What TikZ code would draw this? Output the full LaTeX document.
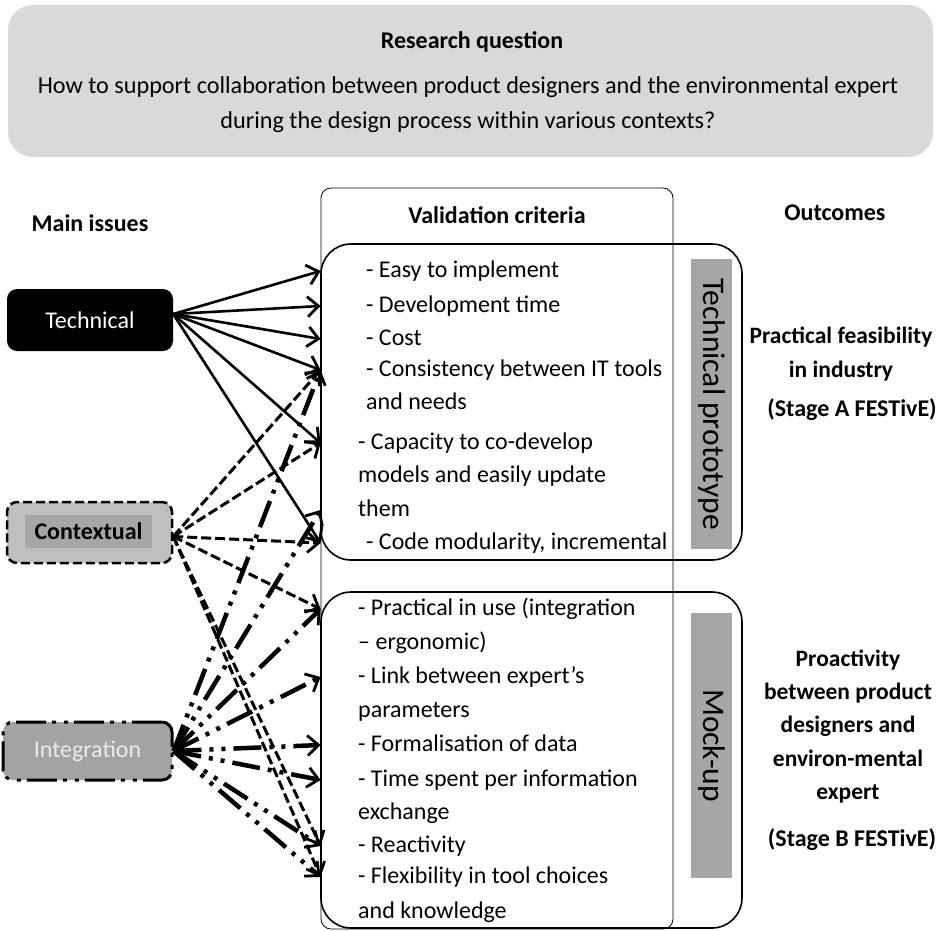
\documentclass[tikz,border=0pt]{standalone}
\usepackage{fontspec}
\setmainfont{Carlito}
\usepackage{tikz}
\usetikzlibrary{arrows.meta,positioning,calc}
\definecolor{qgrey}{gray}{0.85}
\definecolor{ctxgrey}{gray}{0.75}
\definecolor{ctxdark}{gray}{0.65}
\definecolor{intgrey}{gray}{0.64}
\definecolor{bargrey}{gray}{0.65}
\tikzstyle{issue} = [rectangle, rounded corners = 10pt, minimum width = 166pt, minimum height = 62pt, text centered]
\tikzstyle{crit} = [anchor = west, inner sep = 0pt, text height = 16pt, text depth = 4pt]
\tikzstyle{techarrow} = [line width = 2.6pt, ->, > = {Straight Barb[length = 11pt, width = 20pt, line width = 2.8pt]}]

\begin{document}
\begin{tikzpicture}[
x=1pt, y=-1pt,
font=\fontsize{24}{28}\selectfont,
head/.style={font=\fontsize{24}{28}\selectfont\bfseries},
outcome/.style={align=center,font=\fontsize{23.5}{33.3}\selectfont\bfseries},
box/.style={draw,line width=1.6pt,rounded corners=30pt,minimum width=421pt},
bar/.style={fill=bargrey,rotate=-90,minimum height=41pt,inner sep=0pt,font=\fontsize{31.5}{36}\selectfont},
ctxarrow/.style={techarrow,line width=3pt,dash pattern=on 10pt off 4pt},
intarrow/.style={techarrow,line width=4.5pt,dash pattern=on 28pt off 8pt on 4pt off 8pt on 4pt off 8pt}]

\useasboundingbox (0,0) rectangle (937,930);

% research question
\node[fill=qgrey,rounded corners=25pt,minimum width=925pt,minimum height=152pt] (rq) at (470.5,81) {};
\node[head] (rqtitle) at (472,42) {Research question};
\node[align=center,font=\fontsize{24.2}{35}\selectfont] (rqtext) at (468,104.5) {How to support collaboration between product designers and the environmental expert\\during the design process within various contexts?};

% column heads
\node[head] (mainissues) at (90,223) {Main issues};
\node[head] (valcrit) at (497,215) {Validation criteria};
\node[head] (outc) at (835,213) {Outcomes};

% boxes
\node[draw,line width=0.8pt,rounded corners=10pt,minimum width=352pt,minimum height=741pt] (vc) at (497,558.5) {};
\node[box,minimum height=316pt] (tp) at (531.5,402) {};
\node[box,minimum height=336pt] (mu) at (531.5,760) {};
\node[bar,minimum width=290pt] (tpbar) at (711.5,404) {Technical prototype};
\node[bar,minimum width=265pt] (mubar) at (711.5,745.5) {Mock-up};

% main issues
\node[issue,fill=black,text=white] (tech) at (90,320) {Technical};
\node[issue,fill=ctxgrey,draw,line width=2.5pt,dash pattern=on 9pt off 4pt,minimum width=165pt,minimum height=61pt] (ctx) at (89.5,532.5) {};
\node[fill=ctxdark,minimum width=127pt,minimum height=33pt,font=\fontsize{24}{28}\selectfont\bfseries] (ctxlabel) at (88.5,531.5) {Contextual};
\node[issue,fill=intgrey,text=white!92!black,draw,line width=3pt,dash pattern=on 30pt off 6pt on 4pt off 8pt on 4pt off 6pt,minimum width=169pt,minimum height=58pt] (integ) at (87.5,751) {Integration};

% criteria, technical prototype
\node[crit] (easy) at (366,271) {- Easy to implement};
\node[crit] (devtime) at (366,306) {- Development time};
\node[crit] (cost) at (366,339) {- Cost};
\node[crit] (consist) at (366,370) {- Consistency between IT tools};
\node[crit] (consistb) at (366,403) {and needs};
\node[crit] (capacity) at (358,443) {- Capacity to co-develop};
\node[crit] (capacityb) at (358,476) {models and easily update};
\node[crit] (them) at (358,510) {them};
\node[crit] (modular) at (366,543) {- Code modularity, incremental};

% criteria, mock-up
\node[crit] (practical) at (358,609) {- Practical in use (integration};
\node[crit] (ergo) at (358,643) {-- ergonomic)};
\node[crit] (link) at (358,677) {- Link between expert's};
\node[crit] (params) at (358,711) {parameters};
\node[crit] (formal) at (358,745) {- Formalisation of data};
\node[crit] (timesp) at (358,780) {- Time spent per information};
\node[crit] (exch) at (358,813) {exchange};
\node[crit] (react) at (358,846) {- Reactivity};
\node[crit] (flex) at (358,877) {- Flexibility in tool choices};
\node[crit] (knowl) at (358,912) {and knowledge};

% outcomes
\node[outcome] (feas) at (841,354) {Practical feasibility\\in industry};
\node[head] (stagea) at (852,410) {(Stage A FESTivE)};
\node[outcome] (proact) at (848,726.5) {Proactivity\\between product\\designers and\\environ-mental\\expert};
\node[head] (stageb) at (852,840) {(Stage B FESTivE)};

% links
\draw[techarrow] ([yshift=6pt]tech.east) -- (easy.west -| vc.west);
\draw[techarrow] ([yshift=6pt]tech.east) -- (devtime.west -| vc.west);
\draw[techarrow] ([yshift=6pt]tech.east) -- (cost.west -| vc.west);
\draw[techarrow] ([yshift=6pt]tech.east) -- (consist.west -| vc.west);
\draw[techarrow] ([yshift=6pt]tech.east) -- (capacity.west -| vc.west);
\draw[techarrow] ([yshift=6pt]tech.east) -- (modular.west -| vc.west);

\draw[ctxarrow] ([yshift=-4pt]ctx.east) -- (consist.west -| vc.west);
\draw[ctxarrow] ([yshift=-4pt]ctx.east) -- (capacity.west -| vc.west);
\draw[ctxarrow] ([yshift=-4pt]ctx.east) -- (modular.west -| vc.west);
\draw[ctxarrow] ([yshift=-4pt]ctx.east) -- (practical.west -| vc.west);
\draw[ctxarrow] ([yshift=-4pt]ctx.east) -- (react.west -| vc.west);
\draw[ctxarrow] ([yshift=-4pt]ctx.east) -- (flex.west -| vc.west);

\draw[intarrow] (integ.east) -- (consist.west -| vc.west);
\draw[intarrow] (integ.east) -- (them.west -| vc.west);
\draw[intarrow] (integ.east) -- (practical.west -| vc.west);
\draw[intarrow] (integ.east) -- (link.west -| vc.west);
\draw[intarrow] (integ.east) -- (formal.west -| vc.west);
\draw[intarrow] (integ.east) -- (timesp.west -| vc.west);
\draw[intarrow] (integ.east) -- (react.west -| vc.west);
\draw[intarrow] (integ.east) -- (flex.west -| vc.west);
\end{tikzpicture}
\end{document}
